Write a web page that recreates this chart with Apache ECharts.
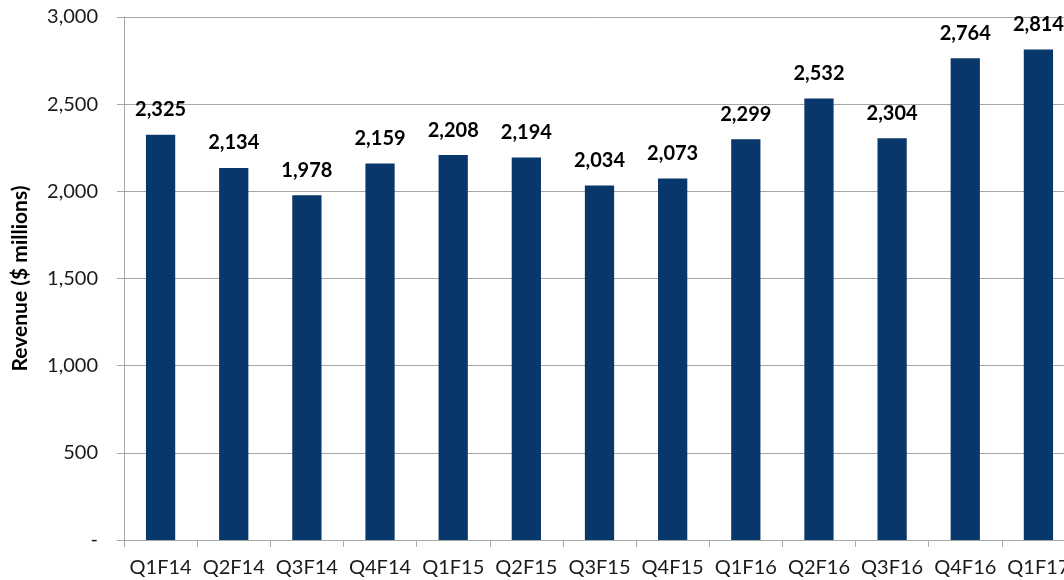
<!DOCTYPE html>
<html>
<head>
<meta charset="utf-8">
<script src="https://cdn.jsdelivr.net/npm/echarts@6/dist/echarts.min.js"></script>
<style>
  html, body { margin: 0; padding: 0; background: #ffffff; }
  #chart { width: 1064px; height: 580px; }
</style>
</head>
<body>
<div id="chart"></div>
<script>
// Quarterly revenue, fiscal 2014 through Q1 fiscal 2017
const quarters = ['Q1F14', 'Q2F14', 'Q3F14', 'Q4F14', 'Q1F15', 'Q2F15', 'Q3F15', 'Q4F15',
                  'Q1F16', 'Q2F16', 'Q3F16', 'Q4F16', 'Q1F17'];
const revenue = [2325, 2134, 1978, 2159, 2208, 2194, 2034, 2073, 2299, 2532, 2304, 2764, 2814];
const yTicks = [0, 500, 1000, 1500, 2000, 2500, 3000];

const FONT = 'Lato, "Open Sans", sans-serif';
const withCommas = v => String(v).replace(/\B(?=(\d{3})+(?!\d))/g, ',');

const chart = echarts.init(document.getElementById('chart'), null, { renderer: 'canvas' });
chart.setOption({
  animation: false,
  grid: { left: 124, right: -11, top: 17, bottom: 40, containLabel: false, outerBoundsMode: 'none' },
  xAxis: {
    type: 'category',
    data: quarters,
    axisLine: { lineStyle: { color: '#a6a6a6', width: 1 } },
    axisTick: { show: true, length: 7, lineStyle: { color: '#a6a6a6' } },
    axisLabel: { color: '#1a1a1a', fontFamily: FONT, fontSize: 20, margin: 18, interval: 0 }
  },
  yAxis: {
    type: 'value',
    min: yTicks[0],
    max: yTicks[yTicks.length - 1],
    interval: yTicks[1] - yTicks[0],
    name: 'Revenue ($ millions)',
    nameLocation: 'middle',
    nameGap: 93,
    nameRotate: 90,
    nameTextStyle: { color: '#000000', fontFamily: FONT, fontSize: 21, fontWeight: 'bold' },
    axisLine: { show: true, lineStyle: { color: '#a6a6a6', width: 1 } },
    axisTick: { show: true, length: 7, lineStyle: { color: '#a6a6a6' } },
    splitLine: { show: true, lineStyle: { color: '#a6a6a6', width: 1 } },
    axisLabel: {
      color: '#1a1a1a', fontFamily: FONT, fontSize: 20, margin: 26,
      formatter: v => (v === 0 ? '-' : withCommas(v))
    }
  },
  series: [{
    type: 'bar',
    data: revenue,
    barWidth: '40%',
    itemStyle: { color: '#08376b' },
    label: {
      show: true,
      position: 'top',
      distance: 15,
      color: '#000000',
      fontFamily: FONT,
      fontSize: 20,
      fontWeight: 'bold',
      formatter: p => withCommas(p.value)
    }
  }]
});
</script>
</body>
</html>
